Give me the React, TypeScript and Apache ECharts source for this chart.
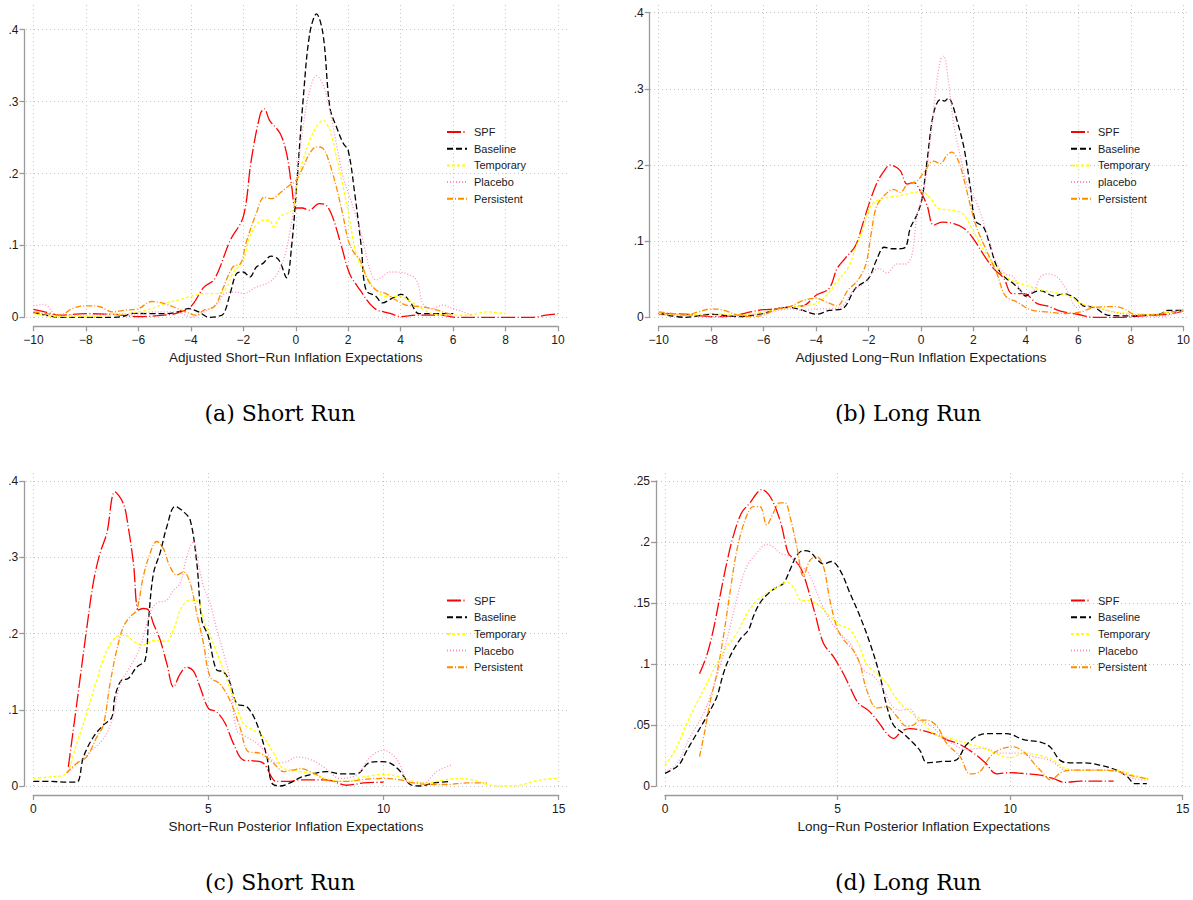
import React, { useEffect, useRef } from "react";
import * as echarts from "echarts";

// ---------- DATA (x, density) ----------
const aSPF = [[-10,.011],[-9.5,.007],[-9,.003],[-8,.005],[-7,.004],[-6,.001],[-5,.003],[-4.5,.006],[-4,.015],[-3.5,.042],[-3.1,.053],[-2.5,.107],[-2,.14],[-1.7,.218],[-1.35,.283],[-1.2,.29],[-1,.274],[-0.6,.256],[-0.35,.228],[-0.15,.181],[0,.152],[0.25,.152],[0.5,.149],[0.9,.158],[1.15,.156],[1.4,.14],[1.75,.098],[2.05,.061],[2.45,.038],[3,.0125],[3.6,.0055],[4,.001],[4.6,.003],[5.5,.003],[6.1,0],[7,0],[8,0],[9.05,0],[9.55,.003],[10,.005]];
const aBaseline = [[-10,.0065],[-9.4,.002],[-9,0],[-8,0],[-7,0],[-6.6,.001],[-6.2,.0055],[-5.5,.005],[-5,.005],[-4.5,.0075],[-4.1,.012],[-3.7,.0075],[-3.3,0],[-3,.001],[-2.75,.005],[-2.5,.033],[-2.25,.061],[-2,.063],[-1.75,.056],[-1.5,.07],[-1.25,.075],[-0.95,.085],[-0.65,.08],[-0.35,.055],[-0.16,.098],[0.03,.181],[0.28,.302],[0.53,.394],[0.79,.422],[1.04,.394],[1.3,.292],[1.55,.265],[1.81,.242],[2,.232],[2.25,.172],[2.5,.098],[2.68,.038],[3.06,.029],[3.3,.02],[3.7,.027],[4.03,.032],[4.35,.022],[4.7,.005],[5.1,.005],[5.75,.005],[6,.005]];
const aTemporary = [[-10,.005],[-9,.001],[-8,.001],[-7,.003],[-6,.0075],[-5.5,.012],[-5,.019],[-4.5,.024],[-4,.029],[-3.5,.033],[-3,.033],[-2.7,.038],[-2.4,.061],[-2,.08],[-1.7,.117],[-1.25,.135],[-1,.135],[-0.85,.126],[-0.6,.14],[-0.3,.145],[-0.1,.15],[0.05,.186],[0.28,.218],[0.53,.246],[0.79,.265],[1.04,.274],[1.3,.26],[1.55,.223],[1.81,.181],[2.06,.135],[2.3,.089],[2.68,.058],[3.06,.038],[3.44,.029],[3.96,.029],[4.47,.02],[4.85,.011],[5.2,.005],[6,.003],[6.5,.003],[7.3,.0075],[8,.005]];
const aPlacebo = [[-10,.016],[-9.6,.018],[-9.2,.005],[-9,.003],[-8,.003],[-7,.005],[-6,.003],[-5.5,.0075],[-5,.0075],[-4.5,.0075],[-4.2,.003],[-4,0],[-3.5,.0075],[-3,.019],[-2.7,.033],[-2.3,.035],[-2,.033],[-1.5,.042],[-1,.049],[-0.7,.061],[-0.4,.088],[-0.22,.12],[-0.1,.145],[0.03,.19],[0.28,.265],[0.53,.315],[0.79,.336],[1.04,.324],[1.3,.288],[1.55,.241],[1.81,.195],[2.06,.167],[2.3,.14],[2.56,.107],[2.8,.07],[3.06,.052],[3.3,.056],[3.57,.063],[3.82,.063],[4.2,.061],[4.6,.052],[4.85,.019],[5.2,.012],[5.6,.017],[6,.012],[6.4,.0075],[6.7,.003]];
const aPersistent = [[-10,.0075],[-9.5,.005],[-9,.003],[-8.5,.0125],[-8,.016],[-7.5,.015],[-7,.0075],[-6.5,.01],[-6,.012],[-5.5,.022],[-5,.019],[-4.5,.012],[-4.2,.0075],[-3.8,.003],[-3.5,.01],[-3.1,.015],[-2.8,.038],[-2.4,.07],[-2.1,.075],[-1.9,.103],[-1.5,.145],[-1.2,.167],[-0.9,.165],[-0.6,.173],[-0.3,.182],[0,.19],[0.28,.209],[0.53,.228],[0.79,.237],[1.04,.235],[1.3,.213],[1.55,.181],[1.81,.14],[2,.107],[2.2,.091],[2.44,.08],[2.75,.052],[3.06,.038],[3.44,.033],[3.82,.024],[4.2,.017],[4.7,.015],[5.2,.012],[5.6,.0075],[6,.003]];

const bSPF = [[-10,.005],[-9,.004],[-8,.001],[-7.5,.001],[-7,.003],[-6.5,.007],[-6,.01],[-5.5,.011],[-5,.014],[-4.5,.015],[-4,.029],[-3.5,.038],[-3.2,.064],[-2.9,.077],[-2.5,.094],[-2.2,.125],[-2,.147],[-1.7,.175],[-1.45,.19],[-1.17,.2],[-0.8,.193],[-0.53,.175],[-0.28,.177],[-0.03,.166],[0.23,.147],[0.48,.121],[0.8,.125],[1.25,.123],[1.63,.117],[2,.103],[2.39,.082],[2.77,.064],[3.16,.051],[3.47,.031],[3.92,.031],[4.43,.018],[4.81,.015],[5.32,.008],[5.96,.004],[6.6,0],[7.6,0],[8.1,.001],[8.86,.003],[9.4,.004],[10,.008]];
const bBaseline = [[-10,.005],[-9,0],[-8,.004],[-7,.001],[-6,.005],[-5.5,.011],[-5,.013],[-4.5,.009],[-4,.004],[-3.5,.009],[-3,.011],[-2.5,.038],[-2,.051],[-1.7,.075],[-1.4,.092],[-1.1,.09],[-0.9,.09],[-0.6,.092],[-0.41,.117],[-0.15,.135],[0.04,.156],[0.23,.205],[0.48,.268],[0.74,.286],[0.9,.284],[1.05,.288],[1.18,.281],[1.37,.259],[1.63,.224],[1.88,.171],[2.07,.127],[2.39,.118],[2.65,.092],[2.9,.066],[3.22,.052],[3.53,.044],[3.8,.035],[3.98,.028],[4.17,.031],[4.56,.035],[5.06,.028],[5.45,.031],[5.83,.026],[6.2,.015],[6.6,.013],[7.1,.003],[7.6,.002],[8.1,.002],[8.6,.003],[9.1,.004],[9.4,.009],[10,.009]];
const bTemporary = [[-10,.005],[-9,.003],[-8,.005],[-7,.003],[-6,.007],[-5,.013],[-4.5,.015],[-4,.018],[-3.6,.029],[-3.2,.047],[-2.8,.064],[-2.5,.09],[-2.2,.118],[-1.9,.147],[-1.55,.155],[-1.17,.158],[-0.79,.16],[-0.41,.163],[0.04,.165],[0.36,.156],[0.67,.143],[1.12,.141],[1.56,.137],[1.88,.121],[2.26,.096],[2.65,.075],[3.03,.06],[3.41,.049],[3.92,.043],[4.56,.036],[5.19,.032],[5.7,.027],[6.09,.018],[6.73,.013],[7.37,.007],[8.1,.005],[8.86,.004],[9.5,.007],[10,.008]];
const bPlacebo = [[-10,.003],[-9,.003],[-8,.001],[-7,.002],[-6,.005],[-5,.011],[-4.5,.009],[-4,.011],[-3.5,.011],[-3,.015],[-2.6,.035],[-2.2,.044],[-1.9,.057],[-1.6,.064],[-1.3,.058],[-0.92,.07],[-0.6,.07],[-0.35,.081],[-0.15,.135],[0.1,.165],[0.36,.233],[0.55,.294],[0.74,.338],[0.86,.343],[1.05,.308],[1.24,.255],[1.5,.211],[1.75,.176],[2.13,.15],[2.52,.11],[2.9,.07],[3.22,.057],[3.53,.053],[3.92,.031],[4.3,.035],[4.56,.053],[4.81,.057],[5.19,.053],[5.57,.035],[5.96,.013],[6.34,.015],[6.85,.011],[7.6,.005],[8.35,.002],[9.1,.001],[9.6,.004],[10,.011]];
const bPersistent = [[-10,.007],[-9.5,.005],[-9,.003],[-8.5,.007],[-8,.011],[-7.5,.009],[-7,.003],[-6.5,.001],[-6,.003],[-5.5,.011],[-5,.014],[-4.5,.022],[-4,.025],[-3.6,.02],[-3.2,.015],[-2.8,.035],[-2.4,.049],[-2.1,.07],[-1.9,.11],[-1.7,.145],[-1.4,.16],[-1.05,.168],[-0.79,.164],[-0.53,.174],[-0.15,.179],[0.1,.19],[0.48,.205],[0.74,.202],[0.99,.213],[1.18,.217],[1.43,.205],[1.69,.174],[1.88,.147],[2.13,.117],[2.52,.086],[2.9,.057],[3.22,.028],[3.66,.02],[4.17,.01],[4.81,.007],[5.45,.005],[6.09,.007],[6.6,.013],[7.37,.014],[7.75,.011],[8.2,.003],[8.86,.003],[9.5,.007],[10,.008]];

const cSPF = [[1,.025],[1.14,.073],[1.33,.139],[1.52,.205],[1.71,.266],[1.9,.305],[2.1,.332],[2.33,.386],[2.57,.371],[2.71,.34],[2.86,.292],[3,.231],[3.14,.233],[3.29,.231],[3.43,.213],[3.62,.192],[3.81,.161],[4,.13],[4.19,.147],[4.38,.156],[4.57,.151],[4.76,.13],[5,.102],[5.24,.097],[5.48,.082],[5.71,.056],[6,.034],[6.29,.033],[6.57,.03],[6.95,.006],[7.33,.006],[7.62,.008],[8,.008],[8.38,.008],[8.95,.001],[9.43,.004],[10,.005]];
const cBaseline = [[0,.006],[0.48,.006],[0.95,.005],[1.24,.005],[1.43,.038],[1.71,.064],[2,.08],[2.24,.09],[2.33,.117],[2.52,.139],[2.71,.141],[2.95,.156],[3.19,.165],[3.29,.218],[3.43,.279],[3.62,.306],[3.81,.34],[4.05,.367],[4.29,.36],[4.48,.349],[4.67,.292],[4.81,.218],[5,.196],[5.24,.152],[5.43,.15],[5.62,.135],[5.81,.108],[6.1,.104],[6.38,.082],[6.67,.038],[6.81,.004],[7.05,0],[7.33,.004],[7.62,.011],[8,.016],[8.38,.019],[8.76,.016],[9.24,.016],[9.57,.03],[9.9,.032],[10.19,.03],[10.48,.019],[10.76,.002],[11.05,0],[11.43,.004],[11.9,.006]];
const cTemporary = [[0,.01],[0.48,.012],[0.9,.015],[1.24,.056],[1.52,.095],[1.81,.139],[2.1,.178],[2.38,.196],[2.62,.198],[2.86,.19],[3.14,.185],[3.43,.191],[3.81,.19],[4,.205],[4.24,.235],[4.48,.244],[4.71,.242],[4.86,.218],[5.14,.187],[5.43,.152],[5.71,.117],[6,.082],[6.29,.073],[6.57,.064],[6.86,.043],[7.14,.023],[7.43,.021],[7.62,.019],[8,.016],[8.48,.008],[8.95,.006],[9.43,.012],[10,.015],[10.48,.012],[10.86,.006],[11.24,.004],[11.62,.007],[12.1,.01],[12.57,.008],[12.95,.002],[13.52,0],[13.9,.001],[14.28,.006],[14.67,.009],[15,.01]];
const cPlacebo = [[1,.018],[1.5,.04],[2,.062],[2.24,.086],[2.48,.134],[2.76,.156],[3.05,.182],[3.33,.227],[3.52,.24],[3.81,.244],[4,.257],[4.19,.266],[4.33,.292],[4.48,.314],[4.57,.321],[4.71,.292],[4.86,.262],[5.05,.24],[5.24,.205],[5.43,.175],[5.62,.139],[5.81,.073],[6.1,.064],[6.38,.056],[6.67,.043],[6.95,.03],[7.24,.032],[7.52,.038],[7.9,.035],[8.29,.025],[8.76,.01],[9.24,.015],[9.62,.038],[10,.047],[10.38,.035],[10.76,.004],[11.14,.004],[11.52,.019],[11.95,.028]];
const cPersistent = [[0.95,.017],[1.24,.03],[1.52,.038],[1.81,.064],[2,.08],[2.19,.134],[2.38,.178],[2.57,.209],[2.76,.222],[2.95,.231],[3.14,.275],[3.33,.305],[3.52,.321],[3.71,.312],[3.9,.288],[4.1,.277],[4.29,.281],[4.48,.266],[4.67,.226],[4.86,.187],[5.05,.143],[5.33,.134],[5.62,.112],[5.9,.077],[6.14,.045],[6.48,.043],[6.86,.03],[7.14,.019],[7.43,.021],[7.62,.023],[8,.017],[8.48,.006],[8.95,.006],[9.52,.009],[10,.01],[10.48,.008],[10.86,.004],[11.33,.002],[11.81,.002],[12.38,.004],[12.95,.004]];

const dSPF = [[1,.092],[1.21,.107],[1.4,.128],[1.59,.155],[1.79,.183],[1.98,.205],[2.22,.224],[2.46,.232],[2.66,.24],[2.8,.243],[3,.239],[3.19,.229],[3.38,.213],[3.57,.191],[3.77,.185],[3.96,.177],[4.15,.161],[4.35,.141],[4.59,.117],[4.88,.106],[5.17,.092],[5.36,.081],[5.6,.068],[5.89,.062],[6.14,.054],[6.43,.043],[6.62,.039],[6.86,.045],[7.1,.047],[7.39,.046],[7.78,.043],[8.16,.038],[8.55,.034],[8.94,.027],[9.28,.019],[9.61,.01],[10,.011],[10.48,.01],[10.87,.009],[11.26,.006],[11.59,.003],[12.03,.004],[12.61,.004],[13,.004]];
const dBaseline = [[0,.0104],[0.39,.017],[0.63,.029],[0.92,.043],[1.21,.057],[1.5,.073],[1.69,.092],[1.88,.106],[2.17,.12],[2.42,.128],[2.56,.139],[2.75,.15],[3,.158],[3.24,.163],[3.43,.166],[3.62,.177],[3.82,.189],[4.01,.193],[4.2,.192],[4.4,.186],[4.59,.182],[4.83,.184],[5.07,.177],[5.36,.158],[5.65,.139],[5.94,.117],[6.23,.09],[6.43,.065],[6.62,.05],[6.91,.043],[7.2,.035],[7.39,.029],[7.59,.019],[7.97,.02],[8.41,.021],[8.74,.034],[9.13,.042],[9.52,.043],[9.9,.043],[10.39,.038],[10.87,.036],[11.16,.032],[11.45,.021],[11.74,.019],[12.13,.019],[12.61,.017],[13.09,.013],[13.38,.008],[13.62,.002],[13.96,.002]];
const dTemporary = [[0,.017],[0.29,.029],[0.63,.051],[1.01,.073],[1.3,.089],[1.55,.103],[1.79,.114],[2.08,.125],[2.37,.141],[2.66,.152],[2.95,.158],[3.24,.163],[3.53,.167],[3.72,.163],[3.96,.152],[4.2,.152],[4.49,.147],[4.78,.139],[5.07,.132],[5.36,.128],[5.6,.117],[5.84,.1],[6.14,.092],[6.43,.084],[6.67,.073],[6.91,.065],[7.2,.059],[7.39,.055],[7.78,.043],[8.26,.039],[8.74,.035],[9.23,.031],[9.71,.025],[10,.023],[10.39,.027],[10.87,.025],[11.26,.021],[11.64,.014],[12.13,.013],[12.61,.013],[13.09,.013],[13.57,.009],[14,.006]];
const dPlacebo = [[0,.012],[0.34,.018],[0.72,.04],[1.11,.059],[1.4,.081],[1.64,.103],[1.88,.13],[2.12,.158],[2.37,.18],[2.66,.191],[2.95,.198],[3.14,.196],[3.33,.191],[3.62,.188],[3.91,.18],[4.1,.177],[4.3,.166],[4.49,.152],[4.78,.136],[5.07,.125],[5.36,.117],[5.55,.106],[5.75,.095],[6.04,.09],[6.33,.079],[6.57,.066],[6.81,.062],[7.1,.063],[7.3,.055],[7.68,.05],[8.16,.038],[8.74,.03],[9.23,.031],[9.71,.027],[10.19,.027],[10.68,.024],[11.16,.021],[11.64,.013],[12.13,.013],[12.61,.013],[13.09,.012],[13.57,.006],[14,.005]];
const dPersistent = [[1,.024],[1.16,.046],[1.3,.068],[1.5,.092],[1.69,.122],[1.88,.158],[2.08,.193],[2.32,.218],[2.56,.229],[2.75,.229],[2.95,.214],[3.14,.224],[3.33,.232],[3.48,.232],[3.62,.221],[3.82,.196],[4.01,.172],[4.2,.185],[4.4,.188],[4.59,.18],[4.78,.152],[4.98,.13],[5.17,.12],[5.46,.111],[5.65,.1],[5.84,.079],[6.14,.064],[6.43,.065],[6.72,.057],[7,.049],[7.2,.05],[7.39,.054],[7.59,.054],[7.88,.049],[8.16,.035],[8.55,.024],[8.84,.01],[9.13,.012],[9.42,.024],[9.71,.03],[10.1,.032],[10.39,.028],[10.68,.019],[10.97,.01],[11.16,.005],[11.55,.012],[12.03,.013],[12.61,.013],[13.09,.012],[13.57,.008],[14,.006]];

const legendNamesA = ["SPF", "Baseline", "Temporary", "Placebo", "Persistent"];
const legendNamesB = ["SPF", "Baseline", "Temporary", "placebo", "Persistent"];
const xTitles = [
  "Adjusted Short\u2212Run Inflation Expectations",
  "Adjusted Long\u2212Run Inflation Expectations",
  "Short\u2212Run Posterior Inflation Expectations",
  "Long\u2212Run Posterior Inflation Expectations",
];
const captions = ["(a) Short Run", "(b) Long Run", "(c) Short Run", "(d) Long Run"];

// ---------- STYLE / LAYOUT ----------
const STYLE: Record<string, { color: string; dash: number[] }> = {
  SPF: { color: "#ff0000", dash: [14, 2.5, 1, 2.5] },
  Baseline: { color: "#000000", dash: [6, 3] },
  Temporary: { color: "#ffff00", dash: [3, 2] },
  Placebo: { color: "#ff8fc0", dash: [1, 2] },
  placebo: { color: "#ff8fc0", dash: [1, 2] },
  Persistent: { color: "#ff8c00", dash: [6, 2, 1, 2] },
};

const SANS = "'Liberation Sans', Arial, Helvetica, sans-serif";

const panels = [
  { grid: { left: 33.5, top: 29.7, width: 524.5, height: 287.6 }, plot: { l: 26, r: 567, t: 5, b: 321 },
    x: { min: -10, max: 10, interval: 2 }, y: { max: 0.4, interval: 0.1 },
    names: legendNamesA, data: [aSPF, aBaseline, aTemporary, aPlacebo, aPersistent],
    legend: { left: 446, top: 126 }, cap: { x: 280, y: 413 } },
  { grid: { left: 658.7, top: 12.7, width: 524.6, height: 304.6 }, plot: { l: 650, r: 1190, t: 5, b: 321 },
    x: { min: -10, max: 10, interval: 2 }, y: { max: 0.4, interval: 0.1 },
    names: legendNamesB, data: [bSPF, bBaseline, bTemporary, bPlacebo, bPersistent],
    legend: { left: 1070, top: 126 }, cap: { x: 908, y: 413 } },
  { grid: { left: 33.3, top: 481.3, width: 525.4, height: 304.7 }, plot: { l: 26, r: 567, t: 473, b: 789 },
    x: { min: 0, max: 15, interval: 5 }, y: { max: 0.4, interval: 0.1 },
    names: legendNamesA, data: [cSPF, cBaseline, cTemporary, cPlacebo, cPersistent],
    legend: { left: 446, top: 594.5 }, cap: { x: 280, y: 882 } },
  { grid: { left: 665, top: 481, width: 517.7, height: 305 }, plot: { l: 657, r: 1190, t: 473, b: 789 },
    x: { min: 0, max: 15, interval: 5 }, y: { max: 0.25, interval: 0.05 },
    names: legendNamesA, data: [dSPF, dBaseline, dTemporary, dPlacebo, dPersistent],
    legend: { left: 1070, top: 594.5 }, cap: { x: 908, y: 882 } },
];

const fmtX = (v: number) => (v < 0 ? "\u2212" + Math.abs(v) : String(v));
const fmtY = (v: number) => {
  const s = String(+v.toFixed(3));
  return s.replace(/^0\./, ".");
};

function buildOption() {
  const grid: any[] = [];
  const xAxis: any[] = [];
  const yAxis: any[] = [];
  const series: any[] = [];
  const legend: any[] = [];
  const graphic: any[] = [];
  const gridLine = { show: true, lineStyle: { color: "#c4c4c4", width: 1, type: [1, 3] } };
  const axisLine = { show: true, onZero: false, lineStyle: { color: "#9a9a9a", width: 1.3 } };
  const axisTick = { show: true, length: 5, lineStyle: { color: "#9a9a9a", width: 1.3 } };

  panels.forEach((p, i) => {
    const gi = i * 3;
    grid.push({ ...p.grid, containLabel: false });
    grid.push({ left: p.grid.left, width: p.grid.width, top: p.plot.t, height: p.plot.b - p.plot.t });
    grid.push({ left: p.plot.l, width: p.plot.r - p.plot.l, top: p.grid.top, height: p.grid.height });

    xAxis.push({
      gridIndex: gi, type: "value", min: p.x.min, max: p.x.max, interval: p.x.interval,
      offset: 9, axisLine, axisTick, splitLine: { show: false },
      axisLabel: { formatter: fmtX, color: "#1a1a1a", fontFamily: SANS, fontSize: 12, margin: 8 },
      name: xTitles[i], nameLocation: "middle", nameGap: 24,
      nameTextStyle: { color: "#1a1a1a", fontFamily: SANS, fontSize: 13.5 },
    });
    yAxis.push({
      gridIndex: gi, type: "value", min: 0, max: p.y.max, interval: p.y.interval,
      offset: 9, axisLine, axisTick, splitLine: { show: false },
      axisLabel: { formatter: fmtY, color: "#1a1a1a", fontFamily: SANS, fontSize: 12, margin: 6 },
    });
    xAxis.push({
      gridIndex: gi + 1, type: "value", min: p.x.min, max: p.x.max, interval: p.x.interval,
      axisLine: { show: false }, axisTick: { show: false }, axisLabel: { show: false }, splitLine: gridLine,
    });
    yAxis.push({ gridIndex: gi + 1, type: "value", min: 0, max: 1, show: false });
    xAxis.push({ gridIndex: gi + 2, type: "value", min: 0, max: 1, show: false });
    yAxis.push({
      gridIndex: gi + 2, type: "value", min: 0, max: p.y.max, interval: p.y.interval,
      axisLine: { show: false }, axisTick: { show: false }, axisLabel: { show: false }, splitLine: gridLine,
    });

    p.names.forEach((name, k) => {
      const st = STYLE[name];
      series.push({
        type: "line", name, xAxisIndex: gi, yAxisIndex: gi, data: p.data[k],
        showSymbol: false, symbol: "none", smooth: 0.35, clip: false,
        lineStyle: { color: st.color, width: 1.3, type: st.dash },
        itemStyle: { color: st.color },
        z: 3,
      });
    });

    legend.push({
      data: p.names, orient: "vertical", left: p.legend.left, top: p.legend.top,
      padding: 0, itemWidth: 20, itemHeight: 10, itemGap: 4.7, selectedMode: false,
      itemStyle: { opacity: 0, color: "transparent", borderWidth: 0 },
      textStyle: { fontFamily: SANS, fontSize: 11, color: "#1a1a1a", lineHeight: 12, padding: [0, 0, 0, 2] },
    });

    graphic.push({
      type: "text", x: p.cap.x, y: p.cap.y,
      style: {
        text: captions[i], fill: "#000", font: "22px 'DejaVu Serif', serif",
        align: "center", verticalAlign: "middle", textAlign: "center", textVerticalAlign: "middle",
      },
    });
  });

  return { animation: false, backgroundColor: "#ffffff", grid, xAxis, yAxis, series, legend, graphic };
}

export default function App() {
  const ref = useRef<HTMLDivElement>(null);
  useEffect(() => {
    if (!ref.current) return;
    const chart = echarts.init(ref.current, undefined, { renderer: "svg" });
    chart.setOption(buildOption());
    return () => chart.dispose();
  }, []);
  return (
    <div
      ref={ref}
      style={{ position: "absolute", left: 0, top: 0, width: 1193, height: 900, background: "#fff" }}
    />
  );
}
